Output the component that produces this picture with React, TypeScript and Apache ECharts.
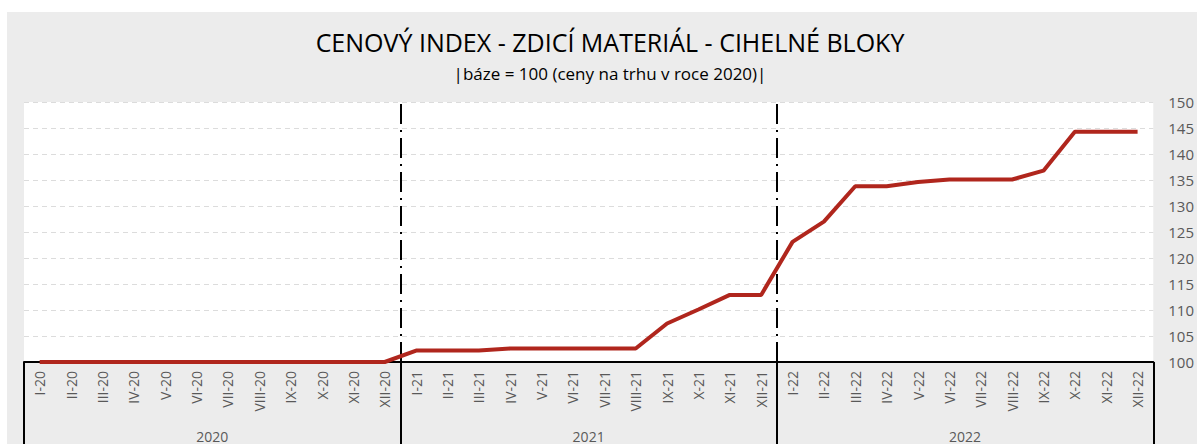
import React, { useEffect, useRef } from "react";
import * as echarts from "echarts";

const months = [
  "I-20", "II-20", "III-20", "IV-20", "V-20", "VI-20", "VII-20", "VIII-20", "IX-20", "X-20", "XI-20", "XII-20",
  "I-21", "II-21", "III-21", "IV-21", "V-21", "VI-21", "VII-21", "VIII-21", "IX-21", "X-21", "XI-21", "XII-21",
  "I-22", "II-22", "III-22", "IV-22", "V-22", "VI-22", "VII-22", "VIII-22", "IX-22", "X-22", "XI-22", "XII-22",
];
const years = ["2020", "2021", "2022"];
const values2020 = [100, 100, 100, 100, 100, 100, 100, 100, 100, 100, 100, 100];
const values2021 = [102.2, 102.2, 102.2, 102.6, 102.6, 102.6, 102.6, 102.6, 107.4, 110.1, 112.9, 112.9];
const values2022 = [123.1, 127.0, 133.8, 133.8, 134.6, 135.1, 135.1, 135.1, 136.8, 144.3, 144.3, 144.3];
const yearBoundaries = [11.5, 23.5];
const titleText = "CENOVÝ INDEX - ZDICÍ MATERIÁL - CIHELNÉ BLOKY";
const subtitleText = "|báze = 100 (ceny na trhu v roce 2020)|";

export default function App() {
  const ref = useRef<HTMLDivElement>(null);
  useEffect(() => {
    document.body.style.margin = "0";
    const chart = echarts.init(ref.current!, null, { renderer: "svg" });
    const values = [...values2020, ...values2021, ...values2022];
    chart.setOption({
      animation: false,
      backgroundColor: "#ffffff",
      textStyle: { fontFamily: "Open Sans" },
      graphic: [
        {
          type: "rect",
          z: -10,
          silent: true,
          shape: { x: 7, y: 12, width: 1200, height: 440 },
          style: { fill: "#ececec" },
        },
        {
          type: "text",
          x: 610,
          y: 42,
          style: {
            text: titleText,
            textAlign: "center",
            textVerticalAlign: "middle",
            fontSize: 25,
            fontFamily: "Open Sans",
            fill: "#000000",
          },
        },
        {
          type: "text",
          x: 610,
          y: 73,
          style: {
            text: subtitleText,
            textAlign: "center",
            textVerticalAlign: "middle",
            fontSize: 17,
            fontFamily: "Open Sans",
            fill: "#000000",
          },
        },
      ],
      grid: {
        left: 24,
        right: 31,
        top: 102,
        bottom: 82,
        show: true,
        backgroundColor: "#ffffff",
        borderWidth: 0,
      },
      xAxis: [
        {
          type: "category",
          data: months,
          boundaryGap: true,
          position: "bottom",
          axisLine: { show: true, lineStyle: { color: "#000000", width: 2 } },
          axisTick: { show: false },
          splitLine: { show: false },
          axisLabel: {
            interval: 0,
            rotate: 90,
            color: "#595959",
            fontSize: 14,
            margin: 9,
            fontFamily: "Open Sans",
          },
        },
        {
          type: "category",
          data: years,
          boundaryGap: true,
          position: "bottom",
          axisLine: { show: false },
          axisTick: {
            show: true,
            interval: 0,
            length: 90,
            lineStyle: { color: "#000000", width: 2 },
          },
          splitLine: { show: false },
          axisLabel: {
            interval: 0,
            color: "#595959",
            fontSize: 14,
            margin: 67,
            fontFamily: "Open Sans",
          },
        },
        {
          type: "value",
          min: -0.5,
          max: 35.5,
          show: false,
        },
      ],
      yAxis: {
        type: "value",
        position: "right",
        min: 100,
        max: 150,
        interval: 5,
        axisLine: { show: false },
        axisTick: { show: false },
        axisLabel: { color: "#595959", fontSize: 15, margin: 15, fontFamily: "Open Sans" },
        splitLine: { show: true, lineStyle: { color: "#dcdcdc", type: [5, 4], width: 1 } },
      },
      series: [
        {
          type: "line",
          xAxisIndex: 0,
          data: values,
          symbol: "none",
          lineStyle: { color: "#b0261d", width: 4 },
          z: 5,
        },
        {
          type: "line",
          xAxisIndex: 2,
          data: [],
          symbol: "none",
          markLine: {
            silent: true,
            symbol: "none",
            label: { show: false },
            lineStyle: { color: "#000000", width: 2, type: [20, 6, 2, 6] },
            data: yearBoundaries.map((v) => ({ xAxis: v })),
          },
        },
      ],
    });
    return () => chart.dispose();
  }, []);
  return <div ref={ref} style={{ width: 1197, height: 444 }} />;
}
